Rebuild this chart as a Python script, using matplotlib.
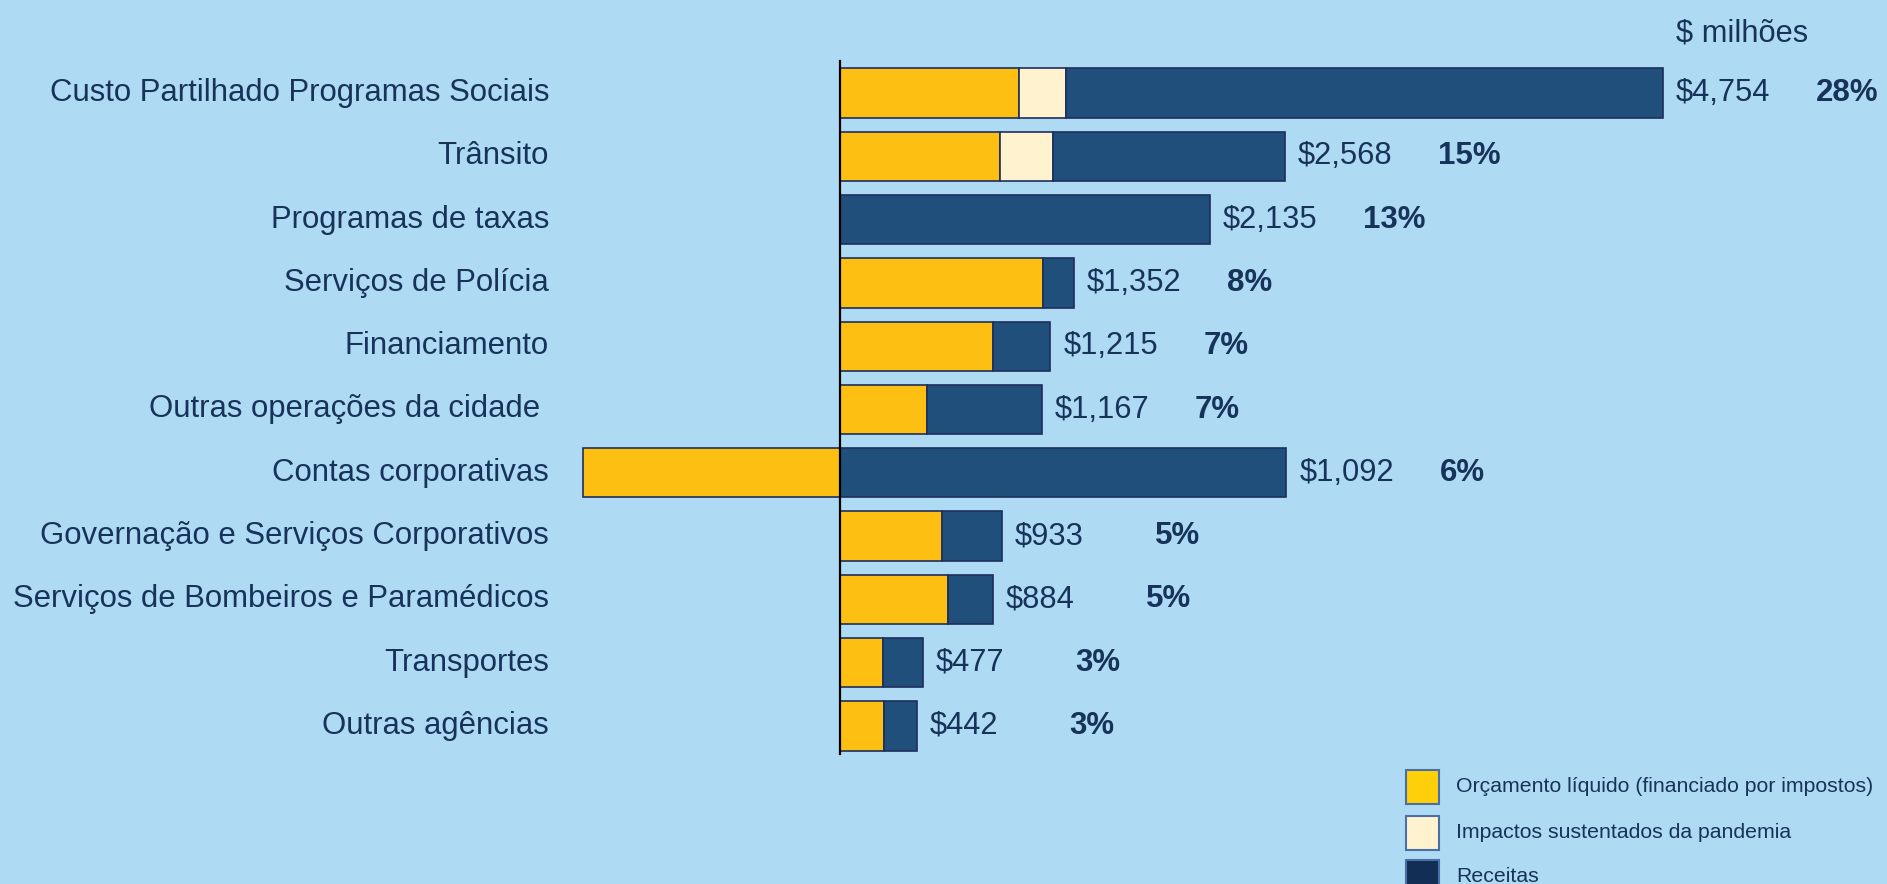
import matplotlib
matplotlib.use("Agg")
import matplotlib.pyplot as plt
from matplotlib.patches import Rectangle

plt.rcParams['font.family'] = ['Liberation Sans', 'DejaVu Sans']

categories = [
    "Custo Partilhado Programas Sociais",
    "Trânsito",
    "Programas de taxas",
    "Serviços de Polícia",
    "Financiamento",
    "Outras operações da cidade ",
    "Contas corporativas",
    "Governação e Serviços Corporativos",
    "Serviços de Bombeiros e Paramédicos",
    "Transportes",
    "Outras agências",
]
net_budget = [1036, 924, 0, 1175, 883, 500, -1487, 591, 626, 250, 257]
pandemic = [271, 306, 0, 0, 0, 0, 0, 0, 0, 0, 0]
revenue = [3447, 1338, 2135, 177, 332, 667, 2579, 342, 258, 227, 185]
total_labels = ["$4,754", "$2,568", "$2,135", "$1,352", "$1,215", "$1,167",
                "$1,092", "$933", "$884", "$477", "$442"]
pct_labels = ["28%", "15%", "13%", "8%", "7%", "7%", "6%", "5%", "5%", "3%", "3%"]
legend_labels = ["Orçamento líquido (financiado por impostos)",
                 "Impactos sustentados da pandemia", "Receitas"]
unit_label = "$ milhões"

BG = "#AEDBF3"
YELLOW = "#FDBF12"
CREAM = "#FFF2CF"
BLUE = "#214F7B"
EDGE = "#1E2E5E"
TEXT = "#17335A"

W, H = 1887, 884
fig = plt.figure(figsize=(W / 100, H / 100), dpi=100, facecolor=BG)
ax = fig.add_axes([0, 0, 1, 1], facecolor=BG)
ax.set_axis_off()

# scale: zero at x=840px, 4754 at 1663px
pxper = (1663 - 840) / 4754.0
ax.set_xlim(-840 / pxper, (W - 840) / pxper)
row0, step = 93.0, 63.3
ax.set_ylim((H - row0) / step, -row0 / step)

bh = 0.78
for i in range(len(categories)):
    n, p, r = net_budget[i], pandemic[i], revenue[i]
    start = max(n, 0)
    if n != 0:
        ax.barh(i, n, left=0, height=bh, color=YELLOW, edgecolor=EDGE, linewidth=1.2, zorder=2)
    if p > 0:
        ax.barh(i, p, left=start, height=bh, color=CREAM, edgecolor=EDGE, linewidth=1.2, zorder=2)
    if r > 0:
        ax.barh(i, r, left=start + p, height=bh, color=BLUE, edgecolor=EDGE, linewidth=1.2, zorder=2)
    end = start + p + r
    ax.annotate(total_labels[i], (end, i), xytext=(13, 0), textcoords='offset pixels',
                ha='left', va='center', fontsize=22.2, color=TEXT)
    ax.annotate(pct_labels[i], (end, i), xytext=(153, 0), textcoords='offset pixels',
                ha='left', va='center', fontsize=22.5, color=TEXT, fontweight='bold')
    ax.annotate(categories[i], (0, i), xytext=(549 - 840, 0), textcoords='offset pixels',
                ha='right', va='center', fontsize=22.4, color=TEXT)

ax.plot([0, 0], [-0.5, 10.45], color='black', linewidth=1.6, zorder=3)

fig.text(1676 / W, 1 - 33 / H, unit_label, ha='left', va='center', fontsize=22.2, color=TEXT)

# legend
leg_colors = ["#FFD00A", CREAM, "#132E55"]
leg_tops = [770, 816, 860]
for c, top, lab in zip(leg_colors, leg_tops, legend_labels):
    fig.patches.append(Rectangle((1406 / W, 1 - (top + 34) / H), 33 / W, 34 / H,
                                 transform=fig.transFigure, facecolor=c,
                                 edgecolor="#4A6FA5", linewidth=1.5))
    fig.text(1456 / W, 1 - (top + 17) / H, lab, ha='left', va='center',
             fontsize=15.3, color=TEXT)

fig.savefig("out.png", dpi=100, facecolor=BG)
